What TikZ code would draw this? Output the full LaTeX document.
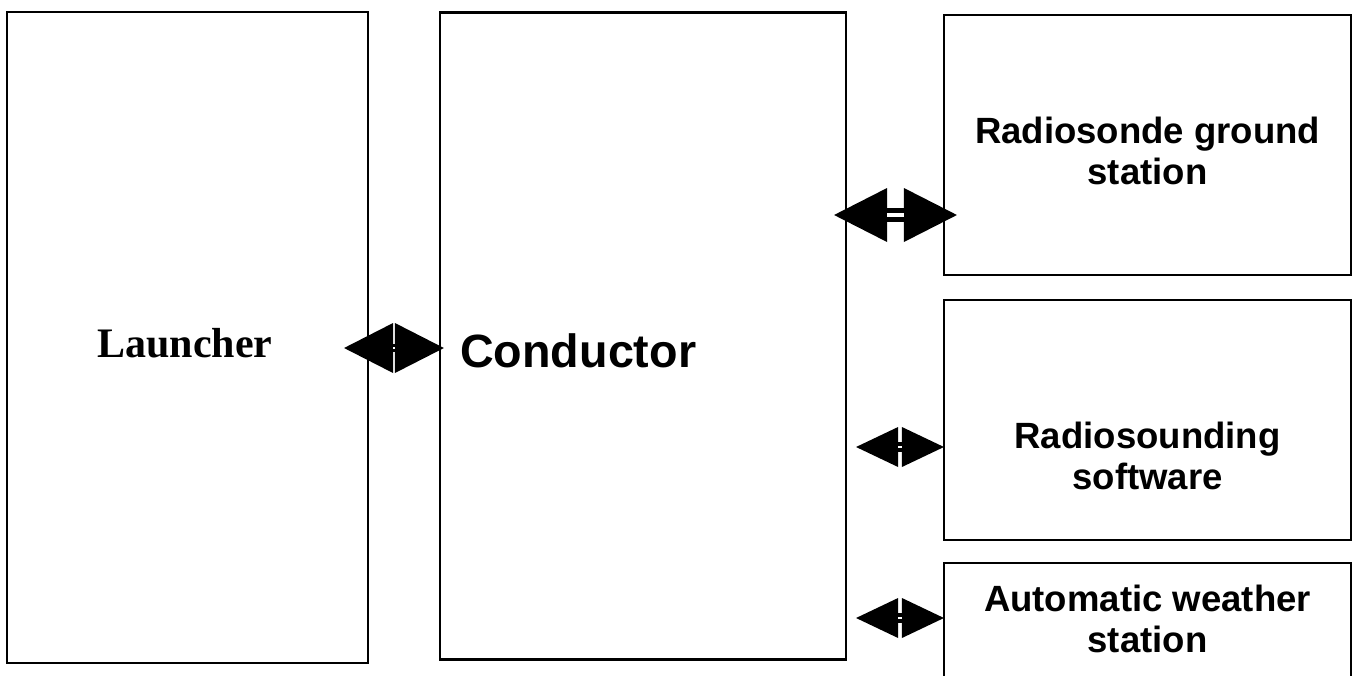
\documentclass[tikz,border=0pt]{standalone}
\usepackage{fontspec}
\setmainfont{Liberation Serif}
\newfontfamily\arialfont{Liberation Sans}
\usetikzlibrary{calc}

% one drawing unit = one pixel of the 1356 x 675 canvas
\tikzset{
  x=0.75pt, y=-0.75pt,
  box/.style={draw=black, line width=1.6pt, fill=white, inner sep=0pt},
  serifbig/.style={font=\fontsize{31.5}{36}\selectfont\bfseries, inner sep=0pt},
  sansbig/.style={font=\arialfont\fontsize{35}{40}\selectfont\bfseries, inner sep=0pt},
  sanslabel/.style={font=\arialfont\fontsize{27.4}{30.5}\selectfont\bfseries, align=center, inner sep=0pt},
}

% two-headed block arrow between two named points:
% #1 left tip, #2 right tip, #3 head length, #4 head half-height,
% #5 bar thickness, #6 gap between the two bars
\newcommand\twinarrow[6]{%
  \fill[black] (#1) -- ($(#1)+(#3,-#4)$) -- ($(#1)+(#3,#4)$) -- cycle;
  \fill[black] (#2) -- ($(#2)+(-#3,-#4)$) -- ($(#2)+(-#3,#4)$) -- cycle;
  \draw[black, line width=#5, double=white, double distance=#6]
    ($(#1)+(#3,0)$) -- ($(#2)+(-#3,0)$);
}

\begin{document}
\begin{tikzpicture}
\clip (0,0) rectangle (1356,675);
\fill[white] (0,0) rectangle (1356,675);

% boxes
\node[box, minimum width=361*0.75pt, minimum height=651*0.75pt] (launcher) at (187.5,337.5) {};
\node[box, minimum width=406*0.75pt, minimum height=647*0.75pt] (conductor) at (643,336) {};
\node[box, minimum width=407*0.75pt, minimum height=260*0.75pt] (ground) at (1147.5,145) {};
\node[box, minimum width=407*0.75pt, minimum height=240*0.75pt] (software) at (1147.5,420) {};
\node[box, minimum width=407*0.75pt, minimum height=130*0.75pt] (weather) at (1147.5,628) {};

% labels
\node[serifbig, anchor=base] (launchertext) at (185,357) {Launcher};
\node[sansbig, anchor=base west] (conductortext) at (460,367) {Conductor};
\node[sanslabel] (groundtext) at (ground.center |- 0,151) {Radiosonde ground\\station};
\node[sanslabel] (softwaretext) at (software.center |- 0,456) {Radiosounding\\software};
\node[sanslabel] (weathertext) at (weather.center |- 0,619) {Automatic weather\\station};

% arrow end points
\coordinate (a1) at (launcher.east |- 0,348);
\coordinate (a2) at (conductor.west |- 0,348);
\coordinate (b1) at (conductor.east |- 0,215);
\coordinate (b2) at (ground.west |- 0,215);
\coordinate (c1) at (conductor.east |- 0,447);
\coordinate (c2) at (software.west |- 0,447);
\coordinate (d1) at (conductor.east |- 0,618);
\coordinate (d2) at (weather.west |- 0,618);

\twinarrow{$(a1)+(-25,0)$}{$(a2)+(5,0)$}{49}{25}{2.6pt}{1.2pt}
\twinarrow{$(b1)+(-13,0)$}{$(b2)+(14,0)$}{53}{27}{3.75pt}{3pt}
\twinarrow{$(c1)+(9,0)$}{$(c2)+(1,0)$}{42}{20}{3pt}{2.2pt}
\twinarrow{$(d1)+(9,0)$}{$(d2)+(1,0)$}{42}{20}{3pt}{2.2pt}
\end{tikzpicture}
\end{document}
